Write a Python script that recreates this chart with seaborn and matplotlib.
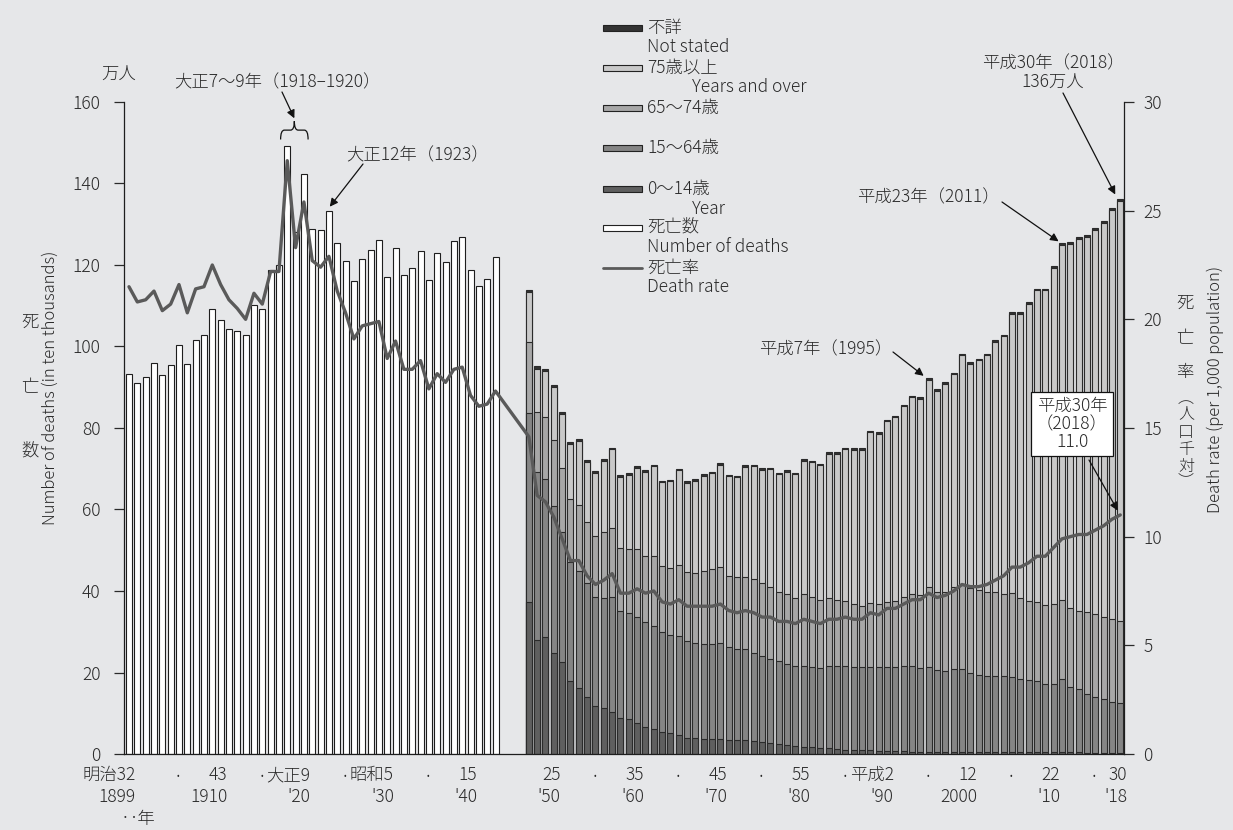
import matplotlib.pyplot as plt
import matplotlib.transforms as mtransforms
from matplotlib.patches import Rectangle, PathPatch
from matplotlib.path import Path
from matplotlib.lines import Line2D
import seaborn as sns
import pandas as pd

# =====================================================================
# DATA  (deaths in ten thousands, death rate per 1,000 population)
# =====================================================================

prewar_years = list(range(1899, 1944))
prewar_deaths = [
    93.2, 91.1, 92.6, 95.9, 93.1, 95.5, 100.4, 95.6, 101.7, 102.9,
    109.2, 106.4, 104.3, 103.7, 102.7, 110.2, 109.3, 118.8, 119.9, 149.3,
    128.1, 142.3, 128.9, 128.6, 133.3, 125.5, 121.1, 116.1, 121.4, 123.6,
    126.1, 117.0, 124.1, 117.5, 119.3, 123.4, 116.2, 123.0, 120.8, 125.9,
    126.8, 118.7, 114.9, 116.6, 121.9,
]
prewar_rate = [
    21.5, 20.8, 20.9, 21.3, 20.4, 20.7, 21.6, 20.3, 21.4, 21.5,
    22.5, 21.6, 20.9, 20.5, 20.0, 21.2, 20.7, 22.2, 22.2, 27.3,
    23.3, 25.4, 22.7, 22.4, 22.9, 21.3, 20.3, 19.1, 19.7, 19.8,
    19.9, 18.2, 19.0, 17.7, 17.7, 18.1, 16.8, 17.5, 17.1, 17.7,
    17.8, 16.5, 16.0, 16.1, 16.7,
]

postwar_years = list(range(1947, 2019))
postwar_total = [
    113.8, 95.1, 94.5, 90.5, 83.9, 76.5, 77.3, 72.1, 69.4, 72.4,
    75.2, 68.4, 68.9, 70.7, 69.6, 71.0, 67.1, 67.3, 70.0, 67.0,
    67.5, 68.6, 69.3, 71.3, 68.5, 68.3, 70.9, 71.0, 70.2, 70.3,
    69.0, 69.6, 69.0, 72.3, 72.0, 71.2, 74.0, 74.0, 75.2, 75.1,
    75.1, 79.3, 78.9, 82.0, 83.0, 85.7, 87.9, 87.6, 92.2, 89.6,
    91.3, 93.6, 98.2, 96.2, 97.0, 98.2, 101.5, 102.9, 108.4, 108.4,
    110.8, 114.2, 114.2, 119.7, 125.3, 125.6, 126.8, 127.3, 129.0, 130.8,
    134.0, 136.2,
]
postwar_rate = [
    14.6, 11.9, 11.6, 10.9, 9.9, 8.9, 8.9, 8.2, 7.8, 8.0,
    8.3, 7.4, 7.4, 7.6, 7.4, 7.5, 7.0, 6.9, 7.1, 6.8,
    6.8, 6.8, 6.8, 6.9, 6.6, 6.5, 6.6, 6.5, 6.3, 6.3,
    6.1, 6.1, 6.0, 6.2, 6.1, 6.0, 6.2, 6.2, 6.3, 6.2,
    6.2, 6.5, 6.4, 6.7, 6.7, 6.9, 7.1, 7.1, 7.4, 7.2,
    7.3, 7.5, 7.8, 7.7, 7.7, 7.8, 8.0, 8.2, 8.6, 8.6,
    8.8, 9.1, 9.1, 9.5, 9.9, 10.0, 10.1, 10.1, 10.3, 10.5,
    10.8, 11.0,
]
# cumulative level of the age breakdown (0-14, 0-64, 0-74)
cum_0_14 = [
    37.4, 28.0, 28.8, 24.9, 22.5, 17.9, 16.3, 14.1, 11.8, 11.2,
    10.2, 8.9, 8.6, 7.7, 6.7, 6.1, 5.5, 5.1, 4.6, 4.0,
    4.0, 3.8, 3.7, 3.6, 3.5, 3.4, 3.4, 3.3, 2.9, 2.6,
    2.4, 2.2, 2.0, 1.8, 1.6, 1.5, 1.4, 1.2, 1.1, 1.0,
    1.0, 0.9, 0.8, 0.7, 0.7, 0.7, 0.6, 0.6, 0.6, 0.5,
    0.5, 0.5, 0.5, 0.5, 0.5, 0.4, 0.4, 0.4, 0.4, 0.4,
    0.4, 0.4, 0.4, 0.4, 0.5, 0.4, 0.4, 0.3, 0.3, 0.3,
    0.3, 0.3,
]
cum_0_64 = [
    83.8, 69.1, 67.4, 60.9, 54.6, 47.2, 45.0, 42.0, 38.6, 38.4,
    38.6, 35.2, 34.7, 33.5, 32.3, 31.5, 29.9, 29.2, 29.0, 27.8,
    27.3, 27.1, 27.1, 27.2, 26.2, 25.8, 25.7, 24.9, 24.0, 23.3,
    22.7, 22.1, 21.7, 21.7, 21.4, 21.2, 21.7, 21.7, 21.6, 21.3,
    21.3, 21.4, 21.3, 21.4, 21.4, 21.6, 21.6, 21.0, 21.4, 20.6,
    20.4, 20.8, 20.8, 20.0, 19.5, 19.2, 19.2, 19.1, 18.8, 18.4,
    18.2, 18.0, 17.3, 17.3, 18.3, 16.5, 15.9, 14.8, 14.1, 13.4,
    12.8, 12.6,
]
cum_0_74 = [
    101.0, 84.0, 82.6, 77.1, 70.3, 62.5, 61.1, 57.0, 53.6, 54.4,
    55.4, 50.6, 50.2, 50.2, 48.6, 48.7, 46.2, 45.7, 46.4, 44.7,
    44.5, 44.9, 45.3, 46.0, 43.8, 43.4, 43.5, 42.9, 41.9, 40.9,
    39.8, 39.2, 38.4, 39.2, 38.6, 37.8, 38.4, 37.9, 37.6, 36.9,
    36.4, 37.1, 36.7, 37.4, 37.6, 38.6, 39.2, 39.0, 40.9, 39.8,
    39.8, 41.0, 41.7, 40.7, 40.2, 39.7, 39.7, 39.3, 39.4, 38.2,
    37.6, 37.3, 36.6, 36.8, 37.8, 35.8, 35.2, 34.8, 34.4, 33.7,
    33.1, 32.7,
]
not_stated = [
    0.5, 0.5, 0.5, 0.5, 0.5, 0.5, 0.5, 0.5, 0.5, 0.5,
    0.4, 0.4, 0.4, 0.4, 0.4, 0.4, 0.4, 0.4, 0.4, 0.4,
    0.4, 0.4, 0.4, 0.4, 0.4, 0.4, 0.4, 0.4, 0.4, 0.4,
    0.4, 0.4, 0.4, 0.4, 0.4, 0.4, 0.4, 0.4, 0.4, 0.4,
    0.4, 0.4, 0.4, 0.4, 0.4, 0.4, 0.4, 0.4, 0.4, 0.4,
    0.4, 0.4, 0.4, 0.4, 0.4, 0.4, 0.4, 0.4, 0.4, 0.4,
    0.4, 0.4, 0.4, 0.4, 0.4, 0.4, 0.4, 0.4, 0.4, 0.4,
    0.4, 0.4,
]

tick_years = [1899, 1910, 1920, 1930, 1940, 1950, 1960, 1970, 1980, 1990, 2000, 2010, 2018]
tick_era = ["明治32", "43", "大正9", "昭和5", "15", "25", "35", "45", "55", "平成2", "12", "22", "30"]
tick_west = ["1899", "1910", "'20", "'30", "'40", "'50", "'60", "'70", "'80", "'90", "2000", "'10", "'18"]
dot_years = [1905, 1915, 1925, 1935, 1955, 1965, 1975, 1985, 1995, 2005, 2015]

# =====================================================================
# STYLE
# =====================================================================

BG = "#e6e7e9"
INK = "#1e1e1e"
TXT = "#2a2a2a"
C_NS = "#333333"
C_75 = "#c9c9c9"
C_65 = "#a7a7a7"
C_15 = "#858585"
C_0 = "#5f5f5f"
C_LINE = "#5a5a5a"
FS = 12.5

sns.set_theme(style="ticks")
plt.rcParams["font.family"] = ["Noto Sans CJK JP", "DejaVu Sans"]
plt.rcParams["font.weight"] = "light"

W, H = 1233, 830


def fx(px):
    return px / W


def fy(py):
    return 1 - py / H


def ay(py):
    # pixel row -> axes fraction (axes spans rows 102..754)
    return (754 - py) / 652


fig = plt.figure(figsize=(W / 100, H / 100), dpi=100, facecolor=BG)
ax = fig.add_axes([fx(124), fy(754), 1000 / W, 652 / H])
ax.set_facecolor(BG)
ax2 = ax.twinx()

# =====================================================================
# BARS + LINE
# =====================================================================

prewar_df = pd.DataFrame({"year": prewar_years, "deaths": prewar_deaths})
post_df = pd.DataFrame(
    {
        "year": postwar_years,
        "total": postwar_total,
        "ns": not_stated,
        "c14": cum_0_14,
        "c64": cum_0_64,
        "c74": cum_0_74,
    }
)
post_df["c75"] = post_df["total"] - post_df["ns"]

bar_kw = dict(native_scale=True, width=0.72, saturation=1, errorbar=None, linewidth=0.8, ax=ax)
sns.barplot(data=prewar_df, x="year", y="deaths", color="white", edgecolor=INK, **bar_kw)
for col, c in [("total", C_NS), ("c75", C_75), ("c74", C_65), ("c64", C_15), ("c14", C_0)]:
    sns.barplot(data=post_df, x="year", y=col, color=c, edgecolor="#2b2b2b", **bar_kw)

rate_df = pd.DataFrame({"year": prewar_years + postwar_years, "rate": prewar_rate + postwar_rate})
sns.lineplot(data=rate_df, x="year", y="rate", ax=ax2, color=C_LINE, linewidth=2.4, errorbar=None)

ax.set_xlim(1898.4, 2018.45)
ax.set_ylim(0, 160)
ax2.set_ylim(0, 30)
ax.set_yticks(range(0, 161, 20))
ax2.set_yticks(range(0, 31, 5))
ax.set_xticks([])
for a in (ax, ax2):
    a.set_xlabel("")
    a.set_ylabel("")

for s in ["top", "right"]:
    ax.spines[s].set_visible(False)
for s in ["top", "left", "bottom"]:
    ax2.spines[s].set_visible(False)
for a, s in [(ax, "left"), (ax, "bottom"), (ax2, "right")]:
    a.spines[s].set_color(INK)
    a.spines[s].set_linewidth(0.9)

ax.tick_params(axis="y", direction="out", length=7, width=0.9, pad=10, labelsize=FS, colors=TXT)
ax2.tick_params(axis="y", direction="out", length=7, width=0.9, pad=7, labelsize=FS, colors=TXT)

# x labels (era year / western year), right aligned next to the bar
blend = mtransforms.blended_transform_factory(ax.transData, ax.transAxes)
for yr, era, west in zip(tick_years, tick_era, tick_west):
    ax.text(yr + 0.8, ay(775), era, transform=blend, ha="right", va="center", fontsize=FS, color=TXT)
    ax.text(yr + 0.8, ay(797), west, transform=blend, ha="right", va="center", fontsize=FS, color=TXT)
for yr in dot_years:
    ax.text(yr - 0.1, ay(776), "•", transform=blend, ha="center", va="center", fontsize=6, color=TXT)


def ftext(px, py, s, **kw):
    kw.setdefault("fontsize", FS)
    kw.setdefault("ha", "center")
    kw.setdefault("va", "center")
    return fig.text(fx(px), fy(py), s, color=TXT, **kw)


ftext(121, 819, "‥年", ha="left")

# =====================================================================
# AXIS TITLES
# =====================================================================

ftext(119, 75, "万人")
for ch, py in [("死", 322), ("亡", 387), ("数", 452)]:
    ftext(30, py, ch)
ftext(50, 388, "Number of deaths (in ten thousands)", rotation=90, fontsize=12)

for ch, py in [("死", 303), ("亡", 338), ("率", 372)]:
    ftext(1185, py, ch)
for ch, py in [("︵", 398), ("人", 414), ("口", 432), ("千", 449), ("対", 466), ("︶", 481)]:
    ftext(1186, py, ch, fontsize=11.5)
ftext(1215, 389, "Death rate (per 1,000 population)", rotation=90, fontsize=12)

# =====================================================================
# ANNOTATIONS
# =====================================================================


def arrow(axis, xy, tail):
    axis.annotate(
        "",
        xy=xy,
        xycoords="data",
        xytext=(fx(tail[0]), fy(tail[1])),
        textcoords="figure fraction",
        arrowprops=dict(arrowstyle="-|>", color="#111", lw=0.9, shrinkA=0, shrinkB=0, mutation_scale=12),
        annotation_clip=False,
    )


# brace over 1918-1920
x0, xm, x1 = 1917.2, 1918.85, 1920.5
yb, yf, yt = 150.8, 153.1, 155.3
brace = Path(
    [(x0, yb), (x0, yf), (x0 + 0.45, yf), (xm - 0.45, yf), (xm, yf), (xm, yt),
     (xm, yf), (xm + 0.45, yf), (x1 - 0.45, yf), (x1, yf), (x1, yb)],
    [Path.MOVETO, Path.CURVE3, Path.CURVE3, Path.LINETO, Path.CURVE3, Path.CURVE3,
     Path.CURVE3, Path.CURVE3, Path.LINETO, Path.CURVE3, Path.CURVE3],
)
ax.add_patch(PathPatch(brace, fill=False, ec="#111", lw=0.9, clip_on=False))

ftext(277, 82, "大正7～9年（1918–1920）")
arrow(ax, (xm, 156.0), (282, 92))

ftext(418, 155, "大正12年（1923）")
arrow(ax, (1923.1, 134.3), (363, 164))

ftext(892, 349, "平成7年（1995）", ha="right")
arrow(ax, (1994.4, 92.8), (893, 352))

ftext(1000, 197, "平成23年（2011）", ha="right")
arrow(ax, (2010.6, 125.8), (1002, 202))

ftext(1053, 73, "平成30年（2018）\n136万人", multialignment="center", linespacing=1.05)
arrow(ax, (2017.4, 137.3), (1063, 93))

ftext(1072, 424, "平成30年\n（2018）\n11.0", multialignment="center", linespacing=1.0,
      bbox=dict(boxstyle="square,pad=0.3", fc="white", ec="#111", lw=0.9))
arrow(ax2, (2017.7, 11.2), (1089, 460))

# =====================================================================
# LEGEND (drawn by hand to follow the original layout)
# =====================================================================

legend_rows = [
    (28, C_NS, "不詳", "Not stated", 647),
    (68, C_75, "75歳以上", "Years and over", 692),
    (108, C_65, "65～74歳", None, 0),
    (148, C_15, "15～64歳", None, 0),
    (189, C_0, "0～14歳", "Year", 692),
    (228, "white", "死亡数", "Number of deaths", 647),
]
for py, c, jp, en, en_x in legend_rows:
    fig.add_artist(Rectangle((fx(603), fy(py + 3)), 39 / W, 6 / H, transform=fig.transFigure,
                             fc=c, ec="#222", lw=0.8))
    ftext(647, py, jp, ha="left")
    if en:
        ftext(en_x, py + 19.5, en, ha="left")
fig.add_artist(Line2D([fx(603), fx(642)], [fy(268), fy(268)], transform=fig.transFigure,
                      color=C_LINE, lw=2.0))
ftext(647, 268, "死亡率", ha="left")
ftext(647, 287.5, "Death rate", ha="left")

fig.savefig("out.png", dpi=100, facecolor=BG)
